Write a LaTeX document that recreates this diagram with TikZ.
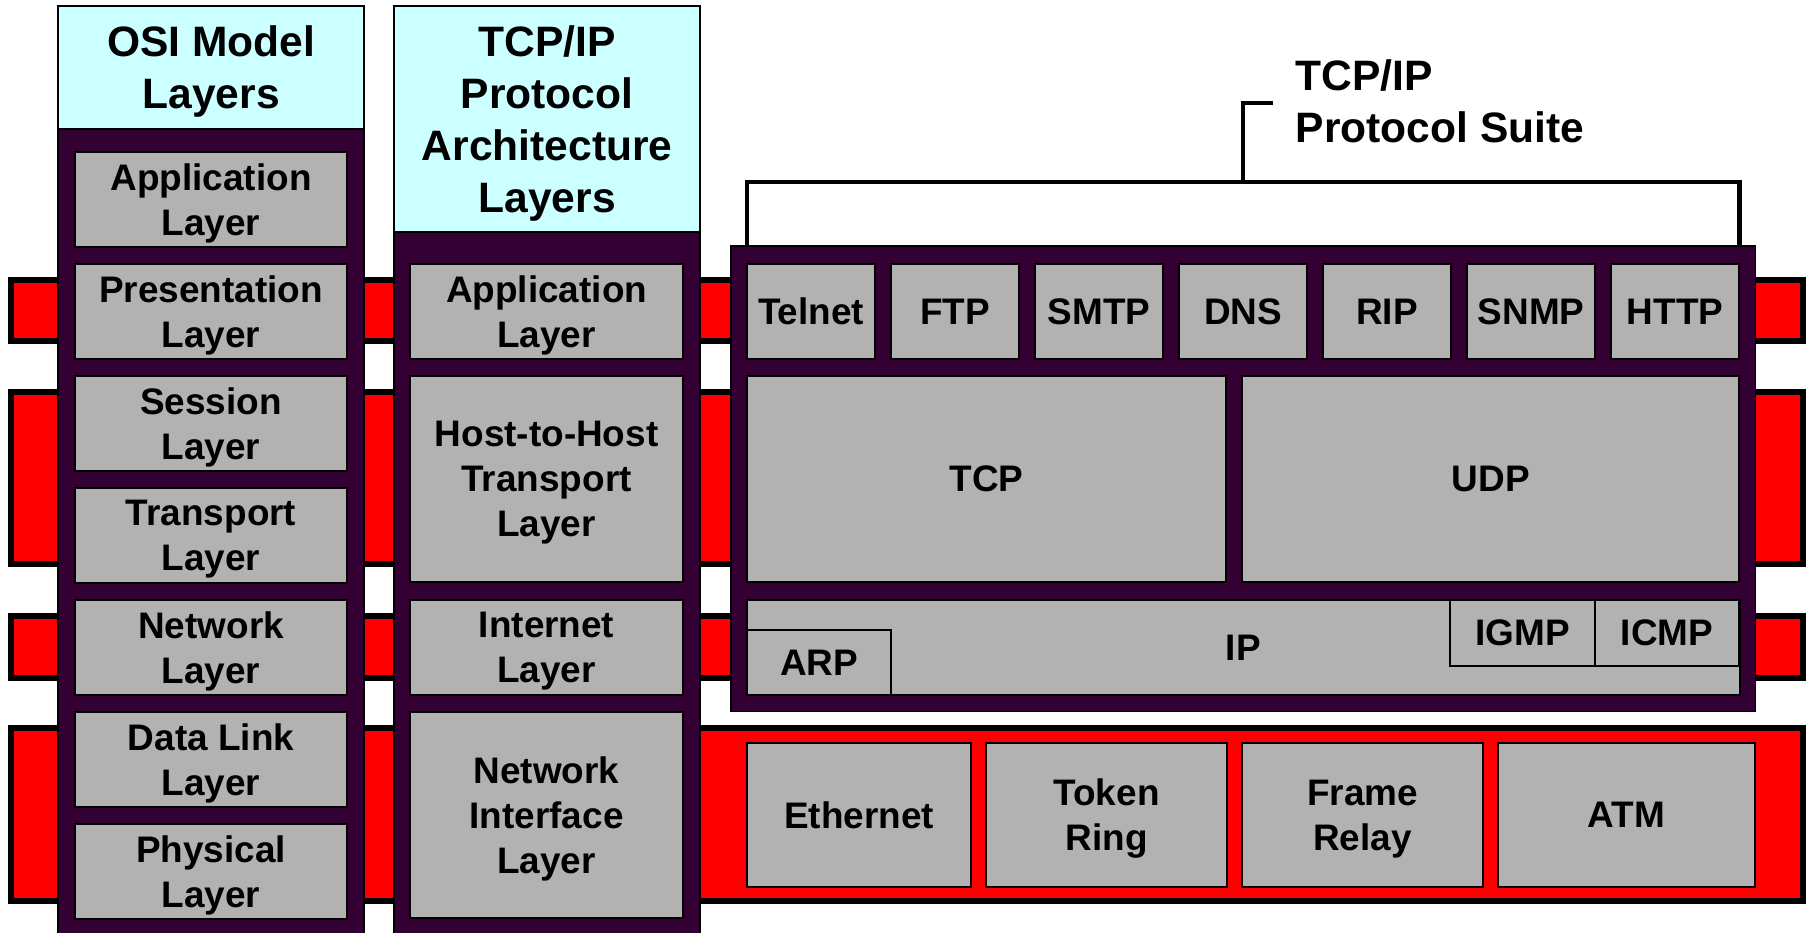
\documentclass[tikz,border=0pt]{standalone}
\usepackage{fontspec}
\setmainfont{Liberation Sans}
\usepackage{tikz}

\definecolor{layerpurple}{RGB}{51,0,51}
\definecolor{headcyan}{RGB}{204,255,255}
\definecolor{boxgray}{RGB}{178,178,178}

\begin{document}
\begin{tikzpicture}[%
        x = 0.01cm,
        y = -0.01cm,
        band/.style = {draw = black, line width = 1.5pt, fill = red},
        column/.style = {draw = black, line width = 0.4pt, fill = layerpurple,
            inner sep = 0pt, outer sep = 0pt, anchor = north west},
        header/.style = {column, fill = headcyan, align = center, text depth = 0pt,
            font = \bfseries\fontsize{12.1}{14.8}\selectfont},
        layer/.style = {draw = black, line width = 0.6pt, fill = boxgray,
            inner sep = 0pt, outer sep = 0pt, anchor = north west, align = center,
            text depth = 0pt, font = \bfseries\fontsize{10.5}{12.8}\selectfont},
        bracket/.style = {draw = black, line width = 1.4pt}
    ]

        % Fix the size of the page.
        \useasboundingbox (0,0) rectangle (1810,932);

        % Red bands behind the columns.
        \draw[band] (11,280) rectangle (1803,341);
        \draw[band] (11,392) rectangle (1803,564);
        \draw[band] (11,616) rectangle (1803,678);
        \draw[band] (11,728) rectangle (1803,901);

        % The two columns and their headers.
        \node[column, minimum width = 3.06cm, minimum height = 9.30cm] (osi) at (58,6) {};
        \node[header, minimum width = 3.06cm, minimum height = 1.23cm] (osihead) at (58,6) {OSI Model\\Layers};
        \node[column, minimum width = 3.06cm, minimum height = 9.30cm] (arch) at (394,6) {};
        \node[header, minimum width = 3.06cm, minimum height = 2.26cm] (archhead) at (394,6) {TCP/IP\\Protocol\\Architecture\\Layers};

        % OSI layers.
        \node[layer, minimum width = 2.72cm, minimum height = 0.95cm] (osiapp) at (75,152) {Application\\Layer};
        \node[layer, minimum width = 2.72cm, minimum height = 0.95cm] (osipres) at (75,264) {Presentation\\Layer};
        \node[layer, minimum width = 2.72cm, minimum height = 0.95cm] (osisess) at (75,376) {Session\\Layer};
        \node[layer, minimum width = 2.72cm, minimum height = 0.95cm] (ositrans) at (75,488) {Transport\\Layer};
        \node[layer, minimum width = 2.72cm, minimum height = 0.95cm] (osinet) at (75,600) {Network\\Layer};
        \node[layer, minimum width = 2.72cm, minimum height = 0.95cm] (osilink) at (75,712) {Data Link\\Layer};
        \node[layer, minimum width = 2.72cm, minimum height = 0.95cm] (osiphys) at (75,824) {Physical\\Layer};

        % TCP/IP architecture layers.
        \node[layer, minimum width = 2.73cm, minimum height = 0.95cm] (archapp) at (410,264) {Application\\Layer};
        \node[layer, minimum width = 2.73cm, minimum height = 2.06cm] (archhost) at (410,376) {Host-to-Host\\Transport\\Layer};
        \node[layer, minimum width = 2.73cm, minimum height = 0.95cm] (archinet) at (410,600) {Internet\\Layer};
        \node[layer, minimum width = 2.73cm, minimum height = 2.06cm] (archnif) at (410,712) {Network\\Interface\\Layer};

        % The protocol suite box.
        \node[column, minimum width = 10.24cm, minimum height = 4.65cm] (suite) at (731,246) {};

        % Application protocols.
        \node[layer, minimum width = 1.28cm, minimum height = 0.95cm] (telnet) at (747,264) {Telnet};
        \node[layer, minimum width = 1.28cm, minimum height = 0.95cm] (ftp) at (891,264) {FTP};
        \node[layer, minimum width = 1.28cm, minimum height = 0.95cm] (smtp) at (1035,264) {SMTP};
        \node[layer, minimum width = 1.28cm, minimum height = 0.95cm] (dns) at (1179,264) {DNS};
        \node[layer, minimum width = 1.28cm, minimum height = 0.95cm] (rip) at (1323,264) {RIP};
        \node[layer, minimum width = 1.28cm, minimum height = 0.95cm] (snmp) at (1467,264) {SNMP};
        \node[layer, minimum width = 1.28cm, minimum height = 0.95cm] (http) at (1611,264) {HTTP};

        % Transport protocols.
        \node[layer, minimum width = 4.79cm, minimum height = 2.06cm] (tcp) at (747,376) {TCP};
        \node[layer, minimum width = 4.97cm, minimum height = 2.06cm] (udp) at (1242,376) {UDP};

        % Internet protocols.
        \node[layer, minimum width = 9.92cm, minimum height = 0.95cm] (ip) at (747,600) {IP};
        \node[layer, line width = 0.4pt, minimum width = 1.44cm, minimum height = 0.65cm] (arp) at (747,630) {ARP};
        \node[layer, line width = 0.4pt, minimum width = 1.45cm, minimum height = 0.66cm] (igmp) at (1450,600) {IGMP};
        \node[layer, line width = 0.4pt, minimum width = 1.44cm, minimum height = 0.66cm] (icmp) at (1595,600) {ICMP};

        % Network access protocols.
        \node[layer, minimum width = 2.24cm, minimum height = 1.44cm] (ethernet) at (747,743) {Ethernet};
        \node[layer, minimum width = 2.41cm, minimum height = 1.44cm] (token) at (986,743) {Token\\Ring};
        \node[layer, minimum width = 2.41cm, minimum height = 1.44cm] (frame) at (1242,743) {Frame\\Relay};
        \node[layer, minimum width = 2.57cm, minimum height = 1.44cm] (atm) at (1498,743) {ATM};

        % Bracket over the protocol suite.
        \coordinate (bracketL) at (telnet.west |- suite.north);
        \coordinate (bracketR) at (http.east |- suite.north);
        \coordinate (bracketM) at (1243,182);
        \coordinate (bracketTip) at (1273,103);
        \draw[bracket] (bracketL) -- (bracketL |- bracketM) -- (bracketR |- bracketM) -- (bracketR);
        \draw[bracket] (bracketM) |- (bracketTip);

        % Label of the suite.
        \node[anchor = west, align = left, inner sep = 0pt,
            font = \bfseries\fontsize{12.1}{14.8}\selectfont] (suitehead) at (1295,101) {TCP/IP\\Protocol Suite};
    \end{tikzpicture}
\end{document}
